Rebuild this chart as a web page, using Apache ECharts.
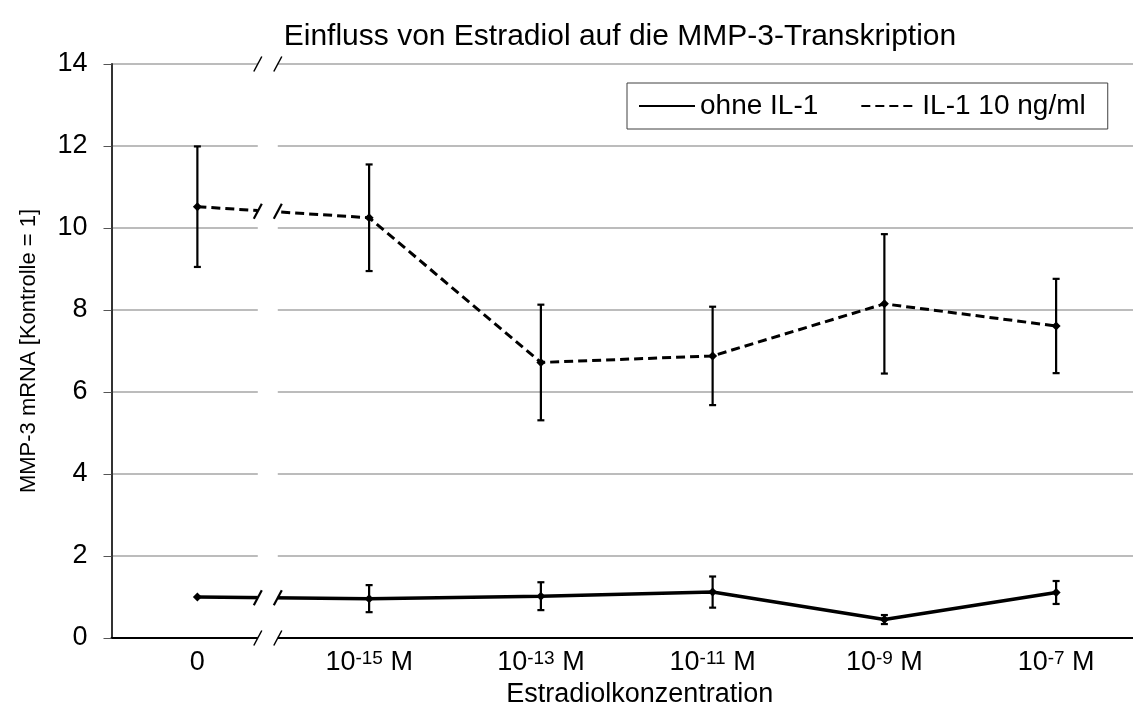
<!DOCTYPE html>
<html>
<head>
<meta charset="utf-8">
<script src="https://cdn.jsdelivr.net/npm/echarts@6/dist/echarts.min.js"></script>
<style>
  html, body { margin: 0; padding: 0; background: #fff; }
  #chart { width: 1133px; height: 705px; }
</style>
</head>
<body>
<div id="chart"></div>
<script>
// Estradiol concentrations (exponent of 10 M, '0' = no estradiol)
const categories = ['0', '-15', '-13', '-11', '-9', '-7'];

// MMP-3 mRNA relative to control
const ohneIL1 = [1.0, 0.96, 1.02, 1.12, 0.45, 1.11];
const ohneIL1Err = [0, 0.33, 0.34, 0.38, 0.11, 0.28];
const il1 = [10.52, 10.25, 6.72, 6.88, 8.15, 7.61];
const il1Err = [1.47, 1.3, 1.41, 1.2, 1.7, 1.15];

const yMin = 0, yMax = 14, yStep = 2;

// where the axis break sits, in category units between '0' and '-15'
const breakAt = 0.41;

const FONT = '"Liberation Sans", Arial, sans-serif';

const chart = echarts.init(document.getElementById('chart'));

const errData = (vals, errs) => vals.map((v, i) => [i, v - errs[i], v + errs[i]]);

const errorBars = (data, name) => ({
  type: 'custom',
  name: name + '_err',
  z: 5,
  data: data,
  renderItem: (params, api) => {
    if (api.value(2) - api.value(1) <= 0) return null;
    const lo = api.coord([api.value(0), api.value(1)]);
    const hi = api.coord([api.value(0), api.value(2)]);
    const cap = 3.5;
    const st = { stroke: '#000', lineWidth: 2.2 };
    return {
      type: 'group',
      children: [
        { type: 'line', shape: { x1: lo[0], y1: lo[1], x2: hi[0], y2: hi[1] }, style: st },
        { type: 'line', shape: { x1: hi[0] - cap, y1: hi[1], x2: hi[0] + cap, y2: hi[1] }, style: st },
        { type: 'line', shape: { x1: lo[0] - cap, y1: lo[1], x2: lo[0] + cap, y2: lo[1] }, style: st }
      ]
    };
  }
});

const option = {
  animation: false,
  textStyle: { fontFamily: FONT },
  title: {
    text: 'Einfluss von Estradiol auf die MMP-3-Transkription',
    left: 615,
    textAlign: 'center',
    top: 17,
    textStyle: { fontFamily: FONT, fontSize: 30, fontWeight: 'normal', color: '#000' }
  },
  legend: {
    left: 627,
    top: 83,
    padding: [9, 22, 9, 11],
    itemWidth: 56,
    itemHeight: 14,
    itemGap: 42,
    backgroundColor: '#fff',
    borderColor: '#404040',
    borderWidth: 1,
    borderRadius: 0,
    itemStyle: { opacity: 0 },
    textStyle: { fontFamily: FONT, fontSize: 28, color: '#000' },
    data: ['ohne IL-1', 'IL-1 10 ng/ml']
  },
  grid: { left: 111.5, right: -9, top: 64, bottom: 67, containLabel: false, outerBoundsMode: 'none' },
  xAxis: {
    type: 'category',
    data: categories,
    boundaryGap: true,
    name: 'Estradiolkonzentration',
    nameLocation: 'middle',
    nameGap: 38,
    nameTextStyle: { fontFamily: FONT, fontSize: 27, color: '#000', padding: [0, 0, 0, 26] },
    axisLine: { lineStyle: { color: '#000', width: 2 } },
    axisTick: { show: false },
    axisLabel: {
      interval: 0,
      margin: 11,
      fontFamily: FONT,
      fontSize: 27,
      color: '#000',
      formatter: v => v === '0' ? '0' : '10{sup|' + v + '} M',
      rich: { sup: { fontFamily: FONT, fontSize: 19, verticalAlign: 'top', color: '#000' } }
    }
  },
  yAxis: {
    type: 'value',
    min: yMin,
    max: yMax,
    interval: yStep,
    name: 'MMP-3 mRNA [Kontrolle = 1]',
    nameLocation: 'middle',
    nameGap: 72,
    nameTextStyle: { fontFamily: FONT, fontSize: 22, color: '#000' },
    axisLine: { show: true, lineStyle: { color: '#333', width: 2 } },
    axisTick: { show: true, inside: false, length: 8, lineStyle: { color: '#555', width: 1 } },
    axisLabel: { margin: 24, fontFamily: FONT, fontSize: 27, color: '#000' },
    splitLine: { lineStyle: { color: '#a6a6a6', width: 1.5 } }
  },
  series: [
    {
      name: 'ohne IL-1',
      type: 'line',
      data: ohneIL1,
      symbol: 'diamond',
      symbolSize: 9,
      itemStyle: { color: '#000' },
      lineStyle: { color: '#000', width: 3.5, type: 'solid' },
      z: 3
    },
    {
      name: 'IL-1 10 ng/ml',
      type: 'line',
      data: il1,
      symbol: 'diamond',
      symbolSize: 9,
      itemStyle: { color: '#000' },
      lineStyle: { color: '#000', width: 3, type: [9, 5] },
      z: 3
    },
    errorBars(errData(ohneIL1, ohneIL1Err), 'ohne IL-1'),
    errorBars(errData(il1, il1Err), 'IL-1 10 ng/ml')
  ]
};

chart.setOption(option);

// axis break between '0' and '10^-15 M'
function drawBreak() {
  const p0 = chart.convertToPixel({ gridIndex: 0 }, [categories[0], yMax]);
  const p1 = chart.convertToPixel({ gridIndex: 0 }, [categories[1], yMin]);
  const bx = p0[0] + breakAt * (p1[0] - p0[0]);
  const half = 10;
  const yTop = p0[1], yBot = p1[1];
  const lineYs = [ohneIL1, il1].map(s =>
    chart.convertToPixel({ gridIndex: 0 }, [categories[0], s[0] + breakAt * (s[1] - s[0])])[1]
  );
  const slashes = [];
  const addPair = (y, w) => {
    [bx - half, bx + half].forEach(x => {
      slashes.push({
        type: 'line', z: 101,
        shape: { x1: x - 4, y1: y + 7.5, x2: x + 4, y2: y - 7.5 },
        style: { stroke: '#000', lineWidth: w }
      });
    });
  };
  addPair(yTop, 1.5);
  addPair(yBot, 1.5);
  lineYs.forEach(y => addPair(y, 2.2));
  chart.setOption({
    graphic: [
      {
        type: 'rect', z: 100,
        shape: { x: bx - half, y: yTop - 9, width: half * 2, height: yBot - yTop + 18 },
        style: { fill: '#fff' }
      }
    ].concat(slashes)
  });
}
drawBreak();
</script>
</body>
</html>
